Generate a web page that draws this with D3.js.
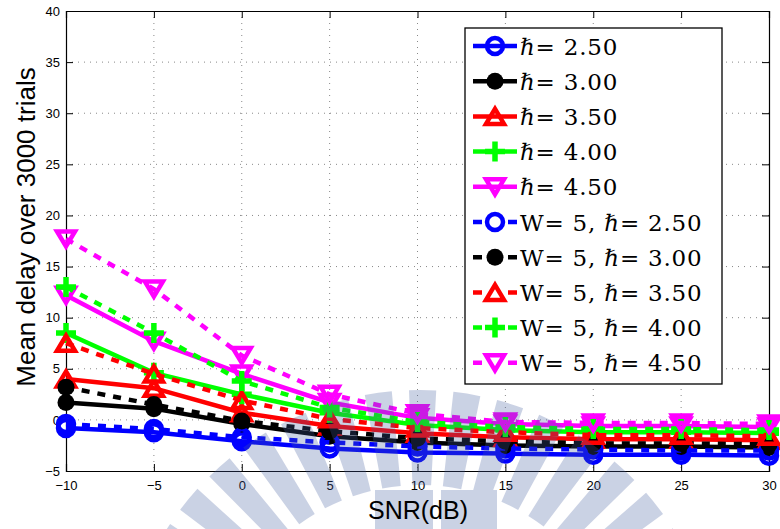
<!DOCTYPE html>
<html><head><meta charset="utf-8">
<script src="https://cdn.jsdelivr.net/npm/d3@7"></script>
<style>body{margin:0;background:#fff;}</style>
</head><body>
<svg id="chart" width="780" height="529"></svg>
<script>
// ---------- data ----------
const snr = [-10, -5, 0, 5, 10, 15, 20, 25, 30];
const xTicks = [-10, -5, 0, 5, 10, 15, 20, 25, 30];
const yTicks = [-5, 0, 5, 10, 15, 20, 25, 30, 35, 40];
const hbarValues = ["2.50", "3.00", "3.50", "4.00", "4.50"];

const h250 = [-0.8, -1.2, -2.1, -2.8, -3.2, -3.3, -3.4, -3.4, -3.5];
const h300 = [1.7, 1.1, -0.4, -1.6, -2.2, -2.5, -2.6, -2.6, -2.7];
const h350 = [4.0, 3.1, 0.7, -0.6, -1.3, -1.7, -1.9, -1.9, -2.0];
const h400 = [8.5, 4.6, 2.5, 0.7, -0.5, -1.0, -1.2, -1.2, -1.3];
const h450 = [12.2, 7.7, 4.5, 1.7, 0.2, -0.4, -0.6, -0.6, -0.7];

const w5h250 = [-0.4, -0.9, -1.7, -2.2, -2.6, -2.8, -2.9, -3.0, -3.0];
const w5h300 = [3.2, 1.5, -0.1, -1.1, -1.8, -2.1, -2.3, -2.3, -2.4];
const w5h350 = [7.5, 4.5, 1.9, 0.1, -0.8, -1.2, -1.5, -1.5, -1.6];
const w5h400 = [13.0, 8.5, 3.8, 1.2, -0.2, -0.7, -0.9, -0.9, -1.0];
const w5h450 = [17.7, 12.8, 6.3, 2.5, 0.6, -0.2, -0.3, -0.3, -0.4];

const colors = ["#0000ff", "#000000", "#ff0000", "#00ff00", "#ff00ff"];
const markers = ["circle", "dot", "triangleUp", "plus", "triangleDown"];

const series = [
  {vals: h250, c: 0, dashed: false, label: "\u210F= " + hbarValues[0]},
  {vals: h300, c: 1, dashed: false, label: "\u210F= " + hbarValues[1]},
  {vals: h350, c: 2, dashed: false, label: "\u210F= " + hbarValues[2]},
  {vals: h400, c: 3, dashed: false, label: "\u210F= " + hbarValues[3]},
  {vals: h450, c: 4, dashed: false, label: "\u210F= " + hbarValues[4]},
  {vals: w5h250, c: 0, dashed: true, label: "W= 5, \u210F= " + hbarValues[0]},
  {vals: w5h300, c: 1, dashed: true, label: "W= 5, \u210F= " + hbarValues[1]},
  {vals: w5h350, c: 2, dashed: true, label: "W= 5, \u210F= " + hbarValues[2]},
  {vals: w5h400, c: 3, dashed: true, label: "W= 5, \u210F= " + hbarValues[3]},
  {vals: w5h450, c: 4, dashed: true, label: "W= 5, \u210F= " + hbarValues[4]}
];

// ---------- layout ----------
const L = 66, R = 769, T = 11, B = 471;
const svg = d3.select("#chart");
const x = d3.scaleLinear().domain([-10, 30]).range([L, R]);
const y = d3.scaleLinear().domain([-5, 40]).range([B, T]);
const LW = 4.5;

// grid
const grid = svg.append("g");
grid.selectAll(".gx").data(xTicks.slice(1, -1)).enter().append("line")
  .attr("x1", d => x(d)).attr("x2", d => x(d)).attr("y1", T).attr("y2", B)
  .attr("stroke", "#888").attr("stroke-width", 1).attr("stroke-dasharray", "1,5");
grid.selectAll(".gy").data(yTicks.slice(1, -1)).enter().append("line")
  .attr("y1", d => y(d)).attr("y2", d => y(d)).attr("x1", L).attr("x2", R)
  .attr("stroke", "#888").attr("stroke-width", 1).attr("stroke-dasharray", "1,5");

// axes (ticks inward)
const fmt = d => (d < 0 ? "\u2212" + Math.abs(d) : String(d));
const axB = svg.append("g").attr("transform", `translate(0,${B})`)
  .call(d3.axisBottom(x).tickValues(xTicks).tickSize(-7).tickFormat(fmt).tickPadding(10));
const axL = svg.append("g").attr("transform", `translate(${L},0)`)
  .call(d3.axisLeft(y).tickValues(yTicks).tickSize(-7).tickFormat(fmt).tickPadding(6));
const axT = svg.append("g").attr("transform", `translate(0,${T})`)
  .call(d3.axisTop(x).tickValues(xTicks).tickSize(-7).tickFormat(""));
const axR = svg.append("g").attr("transform", `translate(${R},0)`)
  .call(d3.axisRight(y).tickValues(yTicks).tickSize(-7).tickFormat(""));
[axB, axL, axT, axR].forEach(a => {
  a.select(".domain").attr("stroke", "#000").attr("stroke-width", 1.2);
  a.selectAll(".tick line").attr("stroke", "#000").attr("stroke-width", 1);
  a.selectAll(".tick text").attr("font-family", "Liberation Sans, Arial, sans-serif")
    .attr("font-size", 13).attr("fill", "#000");
});

// marker drawing
function drawMarker(g, type, color, cx, cy) {
  if (type === "circle") {
    g.append("circle").attr("cx", cx).attr("cy", cy).attr("r", 8)
      .attr("fill", "none").attr("stroke", color).attr("stroke-width", LW);
  } else if (type === "dot") {
    g.append("circle").attr("cx", cx).attr("cy", cy).attr("r", 8.5).attr("fill", color);
  } else if (type === "triangleUp") {
    const w = 9, h = 7.5;
    g.append("path").attr("d", `M${cx},${cy - h}L${cx + w},${cy + h}L${cx - w},${cy + h}Z`)
      .attr("fill", "none").attr("stroke", color).attr("stroke-width", LW).attr("stroke-linejoin", "miter");
  } else if (type === "triangleDown") {
    const w = 9, h = 7.5;
    g.append("path").attr("d", `M${cx},${cy + h}L${cx + w},${cy - h}L${cx - w},${cy - h}Z`)
      .attr("fill", "none").attr("stroke", color).attr("stroke-width", LW).attr("stroke-linejoin", "miter");
  } else if (type === "plus") {
    g.append("path").attr("d", `M${cx - 10},${cy}H${cx + 10}M${cx},${cy - 10}V${cy + 10}`)
      .attr("stroke", color).attr("stroke-width", 5.5).attr("fill", "none");
  }
}

// series
const line = d3.line().x((d, i) => x(snr[i])).y(d => y(d));
const plot = svg.append("g");
series.forEach(s => {
  const g = plot.append("g");
  g.append("path").attr("d", line(s.vals)).attr("fill", "none")
    .attr("stroke", colors[s.c]).attr("stroke-width", LW)
    .attr("stroke-dasharray", s.dashed ? "8,8" : null);
  s.vals.forEach((v, i) => drawMarker(g, markers[s.c], colors[s.c], x(snr[i]), y(v)));
});

// watermark (semi-transparent overlay)
const wm = svg.append("g").attr("fill", "rgb(70,95,160)").attr("opacity", 0.28);
const wcx = 420, wcy = 690;
const arc = d3.arc();
for (let a = -76; a <= 76; a += 8.5) {
  wm.append("path").attr("transform", `translate(${wcx},${wcy})`)
    .attr("d", arc({innerRadius: 205, outerRadius: 300,
      startAngle: (a - 2.6) * Math.PI / 180, endAngle: (a + 2.6) * Math.PI / 180}));
}
wm.append("rect").attr("x", 375).attr("y", 490).attr("width", 58).attr("height", 39);
wm.append("rect").attr("x", 441).attr("y", 490).attr("width", 56).attr("height", 39);

// legend
const lg = svg.append("g");
const lx0 = 465, ly0 = 28, lw = 257, lh = 356;
lg.append("rect").attr("x", lx0).attr("y", ly0).attr("width", lw).attr("height", lh)
  .attr("fill", "#fff").attr("stroke", "#000").attr("stroke-width", 1.3);
series.forEach((s, i) => {
  const cy = 46 + i * 35.2;
  lg.append("line").attr("x1", 473).attr("x2", 517).attr("y1", cy).attr("y2", cy)
    .attr("stroke", colors[s.c]).attr("stroke-width", LW)
    .attr("stroke-dasharray", s.dashed ? "9,26" : null);
  drawMarker(lg, markers[s.c], colors[s.c], 495, cy);
  lg.append("text").attr("x", 520).attr("y", cy + 8.5)
    .attr("font-family", "DejaVu Serif, serif").attr("font-size", 23)
    .attr("letter-spacing", 0.8)
    .attr("fill", "#000").text(s.label);
});

// axis labels
svg.append("text").attr("x", 418).attr("y", 519).attr("text-anchor", "middle")
  .attr("font-family", "Liberation Sans, Arial, sans-serif").attr("font-size", 25)
  .text("SNR(dB)");
svg.append("text").attr("transform", "translate(35,227) rotate(-90)").attr("text-anchor", "middle")
  .attr("font-family", "Liberation Sans, Arial, sans-serif").attr("font-size", 26)
  .text("Mean delay over 3000 trials");
</script>
</body></html>
